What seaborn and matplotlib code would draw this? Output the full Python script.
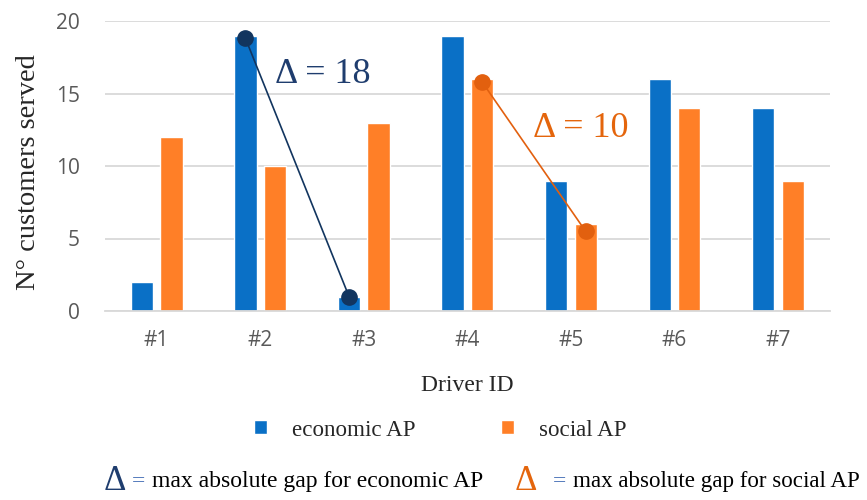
import matplotlib
matplotlib.use("Agg")
import matplotlib.pyplot as plt
import seaborn as sns
import pandas as pd

# data
drivers = ["#1", "#2", "#3", "#4", "#5", "#6", "#7"]
economic = [2, 19, 1, 19, 9, 16, 14]
social = [12, 10, 13, 16, 6, 14, 9]
series_names = ["economic AP", "social AP"]

# max gap markers (driver index, value)
gap_econ_idx = [1, 2]
gap_econ_val = [18.8, 1.0]
gap_social_idx = [3, 4]
gap_social_val = [15.8, 5.5]
gap_econ_label = "Δ = 18"
gap_social_label = "Δ = 10"

blue = "#0a70c6"
orange = "#ff7f27"
navy = "#12355f"
dark_orange = "#e2600f"
navy_text = "#1f3d6e"
orange_text = "#e4650c"
eq_blue = "#4a72b8"

df = pd.DataFrame({
    "driver": drivers * 2,
    "customers": economic + social,
    "plan": [series_names[0]] * len(drivers) + [series_names[1]] * len(drivers),
})

sns.set_style("white")
serif = ["Liberation Serif", "DejaVu Serif"]
sans = ["Open Sans", "DejaVu Sans"]

fig = plt.figure(figsize=(8.67, 5), dpi=100)
ax = fig.add_axes([0.121, 0.378, 0.836, 0.58])

sns.barplot(data=df, x="driver", y="customers", hue="plan",
            palette=[blue, orange], width=0.57, gap=0.25,
            saturation=1, ax=ax)

ax.set_ylim(0, 20)
ax.set_yticks([0, 5, 10, 15, 20])
ax.set_xlim(-0.5, len(drivers) - 0.5)
ax.yaxis.grid(True, color="#d9d9d9", linewidth=1.3)
ax.set_axisbelow(True)
for s in ["top", "right", "left"]:
    ax.spines[s].set_visible(False)
ax.spines["bottom"].set_color("#d9d9d9")
ax.spines["bottom"].set_linewidth(1.3)
ax.tick_params(length=0, labelsize=15, labelcolor="#595959")
ax.tick_params(axis="x", pad=14)
ax.tick_params(axis="y", pad=18)
for lab in ax.get_xticklabels() + ax.get_yticklabels():
    lab.set_family(sans)

ax.set_xlabel("Driver ID", family=serif, fontsize=17)
ax.xaxis.set_label_coords(0.5, -0.22)
ax.set_ylabel("N° customers served", family=serif, fontsize=20.5)
ax.yaxis.set_label_coords(-0.088, 0.48)

# gap lines on top of bars
def bar_center(container, i):
    p = ax.containers[container][i]
    return p.get_x() + p.get_width() / 2

ex = [bar_center(0, i) for i in gap_econ_idx]
sx = [bar_center(1, i) for i in gap_social_idx]
ax.plot(ex, gap_econ_val, color=navy, linewidth=1.2, marker="o",
        markersize=11, zorder=5)
ax.plot(sx, gap_social_val, color=dark_orange, linewidth=1.2, marker="o",
        markersize=11, zorder=5)

ax.text(1.14, 16.3, gap_econ_label, color=navy_text, family=serif,
        fontsize=26, va="center", ha="left")
ax.text(3.63, 12.6, gap_social_label, color=orange_text, family=serif,
        fontsize=26, va="center", ha="left")

leg = ax.legend(loc="center", bbox_to_anchor=(0.508, 0.14),
                bbox_transform=fig.transFigure, ncol=2, frameon=False,
                handlelength=0.55, handleheight=0.55, handletextpad=1.1,
                columnspacing=3.7, prop={"family": serif, "size": 16.6})

# bottom explanation row
y_row = 0.036
fig.text(0.119, y_row, "Δ", color=navy_text, family=serif, fontsize=25,
         ha="left", va="center")
fig.text(0.152, y_row, "=", color=eq_blue, family=serif, fontsize=17,
         ha="left", va="center")
fig.text(0.175, y_row, "max absolute gap for economic AP", color="black",
         family=serif, fontsize=17, ha="left", va="center")
fig.text(0.594, y_row, "Δ", color=orange_text, family=serif, fontsize=25,
         ha="left", va="center")
fig.text(0.638, y_row, "=", color=eq_blue, family=serif, fontsize=17,
         ha="left", va="center")
fig.text(0.661, y_row, "max absolute gap for social AP", color="black",
         family=serif, fontsize=16.6, ha="left", va="center")

fig.savefig("out.png", dpi=100)
